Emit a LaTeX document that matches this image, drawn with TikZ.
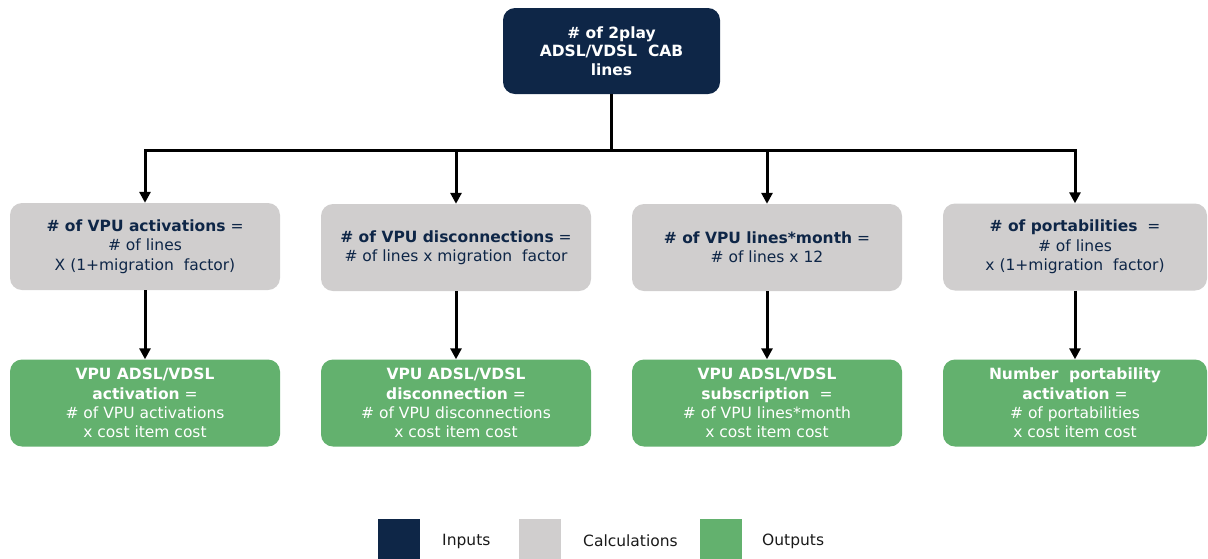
\documentclass[tikz,border=0pt]{standalone}
\usepackage{fontspec}
\setmainfont{DejaVu Sans}
\usetikzlibrary{arrows.meta}
\definecolor{navy}{HTML}{0E2647}
\definecolor{calcgray}{HTML}{D0CECE}
\definecolor{outgreen}{HTML}{63B16E}
\definecolor{legendtext}{HTML}{1A1A1A}
\begin{document}
\begin{tikzpicture}[x=1pt,y=-1pt,
  box/.style={rounded corners=12pt, minimum width=270pt, minimum height=87pt,
    align=center, inner sep=0pt, font=\fontsize{15.5}{19.3}\selectfont},
  inbox/.style={box, fill=navy, text=white, minimum width=217pt, minimum height=86pt,
    font=\fontsize{15.5}{18.6}\selectfont\bfseries},
  calcbox/.style={box, fill=calcgray, text=navy},
  outbox/.style={box, fill=outgreen, text=white},
  link/.style={line width=3pt, draw=black},
  arrowlink/.style={link, -{Triangle[length=11pt,width=11pt]}},
  swatch/.style={minimum width=42pt, minimum height=40pt, inner sep=0pt},
  legendlabel/.style={anchor=west, text=legendtext, inner sep=0pt,
    font=\fontsize{15.5}{18}\selectfont}
]
\useasboundingbox (0,0) rectangle (1208,558);

% input
\node[inbox] (top) at (611.5,51) {\# of 2play\\ADSL/VDSL\ \ CAB\\lines};

% calculations
\node[calcbox] (c1) at (145,246.5) {\textbf{\# of VPU activations} =\\\# of lines\\X (1+migration\ \ factor)};
\node[calcbox] (c2) at (456,247.5) {\textbf{\# of VPU disconnections} =\\\# of lines x migration\ \ factor};
\node[calcbox] (c3) at (767,247.5) {\textbf{\# of VPU lines*month} =\\\# of lines x 12};
\node[calcbox, minimum width=264pt] (c4) at (1075,247) {\textbf{\# of portabilities}\ \ =\\\# of lines\\x (1+migration\ \ factor)};

% outputs
\node[outbox] (o1) at (145,403) {\textbf{VPU ADSL/VDSL}\\\textbf{activation} =\\\# of VPU activations\\x cost item cost};
\node[outbox] (o2) at (456,403) {\textbf{VPU ADSL/VDSL}\\\textbf{disconnection} =\\\# of VPU disconnections\\x cost item cost};
\node[outbox] (o3) at (767,403) {\textbf{VPU ADSL/VDSL}\\\textbf{subscription}\ \ =\\\# of VPU lines*month\\x cost item cost};
\node[outbox, minimum width=264pt] (o4) at (1075,403) {\textbf{Number\ \ portability}\\\textbf{activation} =\\\# of portabilities\\x cost item cost};

% distribution bus from the input
\coordinate (bus) at (611.5,150);
\draw[link] (top.south) -- (bus);
\draw[link, line cap=rect] (c1.north |- bus) -- (c4.north |- bus);
\foreach \n in {c1,c2,c3,c4} {
  \draw[arrowlink] (\n.north |- bus) -- (\n.north);
}
\foreach \a/\b in {c1/o1,c2/o2,c3/o3,c4/o4} {
  \draw[arrowlink] (\a.south) -- (\b.north);
}

% legend
\node[swatch, fill=navy] (lin) at (399,538.5) {};
\node[legendlabel] (lint) at (442,541) {Inputs};
\node[swatch, fill=calcgray] (lcalc) at (540,538.5) {};
\node[legendlabel] (lcalct) at (583,541) {Calculations};
\node[swatch, fill=outgreen] (lout) at (720.5,538.5) {};
\node[legendlabel] (loutt) at (762,541) {Outputs};
\end{tikzpicture}
\end{document}
